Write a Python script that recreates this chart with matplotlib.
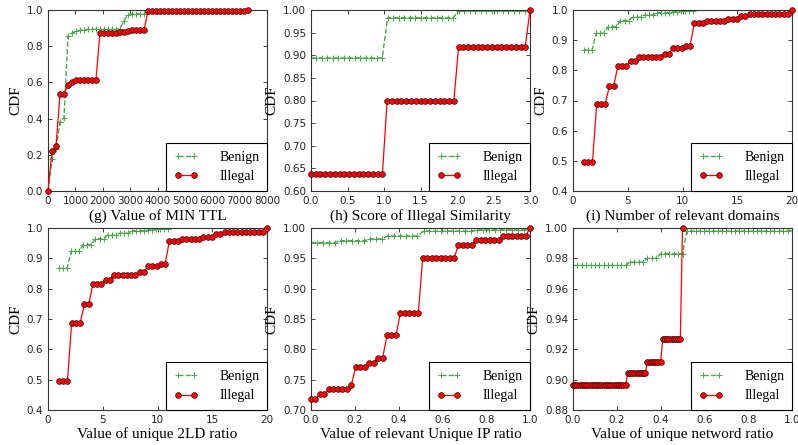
import matplotlib
matplotlib.use("Agg")
import matplotlib.pyplot as plt
from matplotlib.ticker import FormatStrFormatter

# ---------------- data ----------------
# (g) MIN TTL
ttl_x = [0, 146, 292, 438, 584, 730, 876, 1022, 1168, 1314, 1460, 1606, 1752, 1898, 2044, 2190,
         2336, 2482, 2628, 2774, 2920, 3066, 3212, 3358, 3504, 3650, 3796, 3942, 4088, 4234, 4380,
         4526, 4672, 4818, 4964, 5110, 5256, 5402, 5548, 5694, 5840, 5986, 6132, 6278, 6424, 6570,
         6716, 6862, 7008, 7154, 7300]
ttl_benign = [0.0, 0.175, 0.23, 0.383, 0.405, 0.858, 0.872, 0.882, 0.888, 0.891, 0.893, 0.893, 0.893,
              0.893, 0.893, 0.893, 0.893, 0.893, 0.897, 0.94, 0.972, 0.979, 0.979, 0.979, 0.979, 0.995,
              1.0, 1.0, 1.0, 1.0, 1.0, 1.0, 1.0, 1.0, 1.0, 1.0, 1.0, 1.0, 1.0, 1.0, 1.0, 1.0, 1.0, 1.0,
              1.0, 1.0, 1.0, 1.0, 1.0, 1.0, 1.0]
ttl_illegal = [0.0, 0.221, 0.249, 0.534, 0.538, 0.584, 0.604, 0.615, 0.615, 0.615, 0.615, 0.615, 0.615,
               0.875, 0.875, 0.875, 0.875, 0.875, 0.876, 0.881, 0.886, 0.888, 0.888, 0.888, 0.888,
               0.992, 0.992, 0.992, 0.992, 0.992, 0.992, 0.992, 0.992, 0.992, 0.992, 0.992, 0.992, 0.992,
               0.992, 0.992, 0.992, 0.992, 0.992, 0.992, 0.992, 0.992, 0.992, 0.992, 0.992, 0.992, 1.0]

# (h) Score of Illegal Similarity
sim_x_benign = [0.0, 0.075, 0.15, 0.225, 0.3, 0.375, 0.45, 0.525, 0.6, 0.675, 0.75, 0.825, 0.9, 0.975,
                1.05, 1.125, 1.2, 1.275, 1.35, 1.425, 1.5, 1.575, 1.65, 1.725, 1.8, 1.875, 1.95, 2.025,
                2.1, 2.175, 2.25, 2.325, 2.4, 2.475, 2.55, 2.625, 2.7, 2.775, 2.85, 2.925, 3.0]
sim_benign = [0.894, 0.894, 0.894, 0.894, 0.894, 0.894, 0.894, 0.894, 0.894, 0.894, 0.894,
              0.894, 0.894, 0.894, 0.983, 0.983, 0.983, 0.983, 0.983, 0.983, 0.983, 0.983, 0.983,
              0.983, 0.983, 0.983, 0.983, 0.998, 0.998, 0.998, 0.998, 0.998, 0.998, 0.998, 0.998,
              0.998, 0.998, 0.998, 0.998, 0.998, 0.998]
sim_x_illegal = [0.0, 0.065, 0.130, 0.196, 0.261, 0.326, 0.391, 0.457, 0.522, 0.587, 0.652, 0.717,
                 0.783, 0.848, 0.913, 0.978, 1.043, 1.109, 1.174, 1.239, 1.304, 1.370, 1.435, 1.500,
                 1.565, 1.630, 1.696, 1.761, 1.826, 1.891, 1.957, 2.022, 2.087, 2.152, 2.217, 2.283,
                 2.348, 2.413, 2.478, 2.543, 2.609, 2.674, 2.739, 2.804, 2.870, 2.935, 3.0]
sim_illegal = [0.637, 0.637, 0.637, 0.637, 0.637, 0.637, 0.637, 0.637, 0.637, 0.637, 0.637, 0.637,
               0.637, 0.637, 0.637, 0.637, 0.800, 0.800, 0.800, 0.800, 0.800, 0.800, 0.800, 0.800,
               0.800, 0.800, 0.800, 0.800, 0.800, 0.800, 0.800, 0.919, 0.919, 0.919, 0.919, 0.919,
               0.919, 0.919, 0.919, 0.919, 0.919, 0.919, 0.919, 0.919, 0.919, 0.919, 1.0]

# (i) Number of relevant domains  /  unique 2LD ratio
dom_x_benign = [1.000, 1.370, 1.741, 2.111, 2.481, 2.852, 3.222, 3.593, 3.963, 4.333, 4.704, 5.074,
                5.444, 5.815, 6.185, 6.556, 6.926, 7.296, 7.667, 8.037, 8.407, 8.778, 9.148, 9.519,
                9.889, 10.259, 10.630, 11.000]
dom_benign = [0.867, 0.867, 0.867, 0.923, 0.923, 0.923, 0.945, 0.945, 0.945, 0.965, 0.965, 0.965,
              0.976, 0.976, 0.976, 0.983, 0.983, 0.983, 0.991, 0.991, 0.991, 0.991, 0.994, 0.994,
              0.998, 0.998, 0.998, 0.998]
dom_x_illegal = [1.000, 1.388, 1.776, 2.163, 2.551, 2.939, 3.327, 3.714, 4.102, 4.490, 4.878, 5.265,
                 5.653, 6.041, 6.429, 6.816, 7.204, 7.592, 7.980, 8.367, 8.755, 9.143, 9.531, 9.918,
                 10.306, 10.694, 11.082, 11.469, 11.857, 12.245, 12.633, 13.020, 13.408, 13.796,
                 14.184, 14.571, 14.959, 15.347, 15.735, 16.122, 16.510, 16.898, 17.286, 17.673,
                 18.061, 18.449, 18.837, 19.224, 19.612, 20.000]
dom_illegal = [0.495, 0.495, 0.495, 0.688, 0.688, 0.688, 0.748, 0.748, 0.815, 0.815, 0.815, 0.830,
               0.830, 0.845, 0.845, 0.845, 0.845, 0.845, 0.845, 0.854, 0.854, 0.875, 0.875, 0.875,
               0.882, 0.882, 0.956, 0.956, 0.956, 0.965, 0.965, 0.965, 0.965, 0.965, 0.970, 0.970,
               0.970, 0.979, 0.979, 0.987, 0.987, 0.987, 0.987, 0.987, 0.987, 0.987, 0.987, 0.987,
               0.987, 1.0]
sld_x_benign = dom_x_benign
sld_benign = dom_benign
sld_x_illegal = dom_x_illegal
sld_illegal = dom_illegal

# relevant Unique IP ratio
ip_x_benign = [0.000, 0.027, 0.054, 0.081, 0.108, 0.135, 0.162, 0.189, 0.216, 0.243, 0.270, 0.297,
               0.324, 0.351, 0.378, 0.405, 0.432, 0.459, 0.486, 0.514, 0.541, 0.568, 0.595, 0.622,
               0.649, 0.676, 0.703, 0.730, 0.757, 0.784, 0.811, 0.838, 0.865, 0.892, 0.919, 0.946,
               0.973, 1.000]
ip_benign = [0.976, 0.976, 0.976, 0.976, 0.976, 0.979, 0.979, 0.979, 0.979, 0.979, 0.982, 0.982,
             0.982, 0.987, 0.987, 0.987, 0.987, 0.987, 0.987, 0.995, 0.995, 0.995, 0.995, 0.995,
             0.995, 0.995, 0.995, 0.995, 0.997, 0.997, 0.997, 0.997, 0.997, 0.997, 0.997, 0.997,
             0.997, 0.999]
ip_x_illegal = [0.000, 0.020, 0.041, 0.061, 0.082, 0.102, 0.122, 0.143, 0.163, 0.184, 0.204, 0.224,
                0.245, 0.265, 0.286, 0.306, 0.327, 0.347, 0.367, 0.388, 0.408, 0.429, 0.449, 0.469,
                0.490, 0.510, 0.531, 0.551, 0.571, 0.592, 0.612, 0.633, 0.653, 0.673, 0.694, 0.714,
                0.735, 0.755, 0.776, 0.796, 0.816, 0.837, 0.857, 0.878, 0.898, 0.918, 0.939, 0.959,
                0.980, 1.000]
ip_illegal = [0.718, 0.718, 0.726, 0.726, 0.734, 0.734, 0.734, 0.734, 0.734, 0.741, 0.771, 0.771,
              0.771, 0.778, 0.778, 0.786, 0.786, 0.823, 0.823, 0.823, 0.860, 0.860, 0.860, 0.860,
              0.860, 0.950, 0.950, 0.950, 0.950, 0.950, 0.950, 0.950, 0.950, 0.972, 0.972, 0.972,
              0.972, 0.980, 0.980, 0.980, 0.980, 0.980, 0.980, 0.987, 0.987, 0.987, 0.987, 0.987,
              0.987, 1.0]

# unique network ratio
net_x_benign = [0.00, 0.02, 0.04, 0.06, 0.08, 0.10, 0.12, 0.14, 0.16, 0.18, 0.20, 0.22, 0.24, 0.26,
                0.28, 0.30, 0.32, 0.34, 0.36, 0.38, 0.40, 0.42, 0.44, 0.46, 0.48, 0.50, 0.52, 0.54,
                0.56, 0.58, 0.60, 0.62, 0.64, 0.66, 0.68, 0.70, 0.72, 0.74, 0.76, 0.78, 0.80, 0.82,
                0.84, 0.86, 0.88, 0.90, 0.92, 0.94, 0.96, 0.98, 1.00]
net_benign = [0.9753, 0.9753, 0.9753, 0.9753, 0.9753, 0.9753, 0.9753, 0.9753, 0.9753, 0.9753, 0.9753,
              0.9753, 0.9753, 0.9775, 0.9775, 0.9775, 0.9775, 0.980, 0.980, 0.980, 0.983, 0.983,
              0.983, 0.983, 0.983, 0.983, 0.998, 0.998, 0.998, 0.998, 0.998, 0.998, 0.998, 0.998,
              0.998, 0.998, 0.998, 0.998, 0.998, 0.998, 0.998, 0.998, 0.998, 0.998, 0.998, 0.998,
              0.998, 0.998, 0.998, 0.998, 0.999]
net_x_illegal = [0.00, 0.01, 0.02, 0.03, 0.04, 0.05, 0.06, 0.07, 0.08, 0.09, 0.10, 0.11, 0.12, 0.13,
                 0.14, 0.15, 0.16, 0.17, 0.18, 0.19, 0.20, 0.21, 0.22, 0.23, 0.24, 0.25, 0.26, 0.27,
                 0.28, 0.29, 0.30, 0.31, 0.32, 0.33, 0.34, 0.35, 0.36, 0.37, 0.38, 0.39, 0.40, 0.41,
                 0.42, 0.43, 0.44, 0.45, 0.46, 0.47, 0.48, 0.49, 0.50]
net_illegal = [0.8965, 0.8965, 0.8965, 0.8965, 0.8965, 0.8965, 0.8965, 0.8965, 0.8965,
               0.8965, 0.8965, 0.8965, 0.8965, 0.8965, 0.8965, 0.8965, 0.8965, 0.8965, 0.8965, 0.8965,
               0.8965, 0.8965, 0.8965, 0.8965, 0.8965, 0.9043, 0.9043, 0.9043, 0.9043, 0.9043, 0.9043,
               0.9043, 0.9043, 0.9043, 0.9118, 0.9118, 0.9118, 0.9118, 0.9118, 0.9118, 0.9118, 0.9266,
               0.9266, 0.9266, 0.9266, 0.9266, 0.9266, 0.9266, 0.9266, 0.9266, 1.0]

panels = [
    dict(xb=ttl_x, yb=ttl_benign, xi=ttl_x, yi=ttl_illegal, xlabel="(g) Value of MIN TTL",
         xlim=(0, 8000), xticks=[0, 1000, 2000, 3000, 4000, 5000, 6000, 7000, 8000], xfmt="%d",
         ylim=(0.0, 1.0), yticks=[0.0, 0.2, 0.4, 0.6, 0.8, 1.0], yfmt="%.1f"),
    dict(xb=sim_x_benign, yb=sim_benign, xi=sim_x_illegal, yi=sim_illegal,
         xlabel="(h) Score of Illegal Similarity",
         xlim=(0, 3), xticks=[0.0, 0.5, 1.0, 1.5, 2.0, 2.5, 3.0], xfmt="%.1f",
         ylim=(0.6, 1.0), yticks=[0.60, 0.65, 0.70, 0.75, 0.80, 0.85, 0.90, 0.95, 1.00], yfmt="%.2f"),
    dict(xb=dom_x_benign, yb=dom_benign, xi=dom_x_illegal, yi=dom_illegal,
         xlabel="(i) Number of relevant domains",
         xlim=(0, 20), xticks=[0, 5, 10, 15, 20], xfmt="%d",
         ylim=(0.4, 1.0), yticks=[0.4, 0.5, 0.6, 0.7, 0.8, 0.9, 1.0], yfmt="%.1f"),
    dict(xb=sld_x_benign, yb=sld_benign, xi=sld_x_illegal, yi=sld_illegal,
         xlabel="Value of unique 2LD ratio",
         xlim=(0, 20), xticks=[0, 5, 10, 15, 20], xfmt="%d",
         ylim=(0.4, 1.0), yticks=[0.4, 0.5, 0.6, 0.7, 0.8, 0.9, 1.0], yfmt="%.1f"),
    dict(xb=ip_x_benign, yb=ip_benign, xi=ip_x_illegal, yi=ip_illegal,
         xlabel="Value of relevant Unique IP ratio",
         xlim=(0, 1), xticks=[0.0, 0.2, 0.4, 0.6, 0.8, 1.0], xfmt="%.1f",
         ylim=(0.7, 1.0), yticks=[0.70, 0.75, 0.80, 0.85, 0.90, 0.95, 1.00], yfmt="%.2f"),
    dict(xb=net_x_benign, yb=net_benign, xi=net_x_illegal, yi=net_illegal,
         xlabel="Value of unique netword ratio",
         xlim=(0, 1), xticks=[0.0, 0.2, 0.4, 0.6, 0.8, 1.0], xfmt="%.1f",
         ylim=(0.88, 1.0), yticks=[0.88, 0.90, 0.92, 0.94, 0.96, 0.98, 1.00], yfmt="%.2f"),
]

# ---------------- figure ----------------
SERIF = ["Liberation Serif", "DejaVu Serif"]
fig = plt.figure(figsize=(7.98, 4.45), dpi=100)
lefts = [48 / 798, 311 / 798, 573 / 798]
width = 219 / 798
bottoms = [1 - 191 / 445, 1 - 410 / 445]
heights = [181 / 445, 182 / 445]

green = "#45aa45"
for k, p in enumerate(panels):
    r, c = divmod(k, 3)
    ax = fig.add_axes([lefts[c], bottoms[r], width, heights[r]])
    ax.plot(p["xb"], p["yb"], linestyle="--", color=green, marker="+", markersize=4.5,
            markeredgewidth=0.7, linewidth=1.0, label="Benign", clip_on=True)
    ax.plot(p["xi"], p["yi"], linestyle="-", color="red", marker="o", markersize=4.2,
            markerfacecolor="red", markeredgecolor="black", markeredgewidth=0.4,
            linewidth=0.9, label="Illegal", clip_on=False, zorder=3)
    ax.set_xlim(*p["xlim"])
    ax.set_ylim(*p["ylim"])
    ax.set_xticks(p["xticks"])
    ax.set_yticks(p["yticks"])
    ax.xaxis.set_major_formatter(FormatStrFormatter(p["xfmt"]))
    ax.yaxis.set_major_formatter(FormatStrFormatter(p["yfmt"]))
    ax.tick_params(direction="in", top=True, right=True, length=3, width=0.6,
                   labelsize=7.5, pad=3.5, colors="#222222")
    for s in ax.spines.values():
        s.set_linewidth(0.8)
        s.set_color("#333333")
    ax.set_xlabel(p["xlabel"], family=SERIF, fontsize=11, labelpad=2)
    ax.set_ylabel("CDF", family=SERIF, fontsize=11, labelpad=3)
    leg = ax.legend(loc="lower right", borderaxespad=0, fancybox=False, framealpha=1,
                    edgecolor="black", numpoints=2, handlelength=1.8, handletextpad=1.5,
                    borderpad=0.55, labelspacing=0.45,
                    prop={"family": SERIF, "size": 10})
    leg.get_frame().set_linewidth(0.8)

fig.savefig("out.png", dpi=100)
